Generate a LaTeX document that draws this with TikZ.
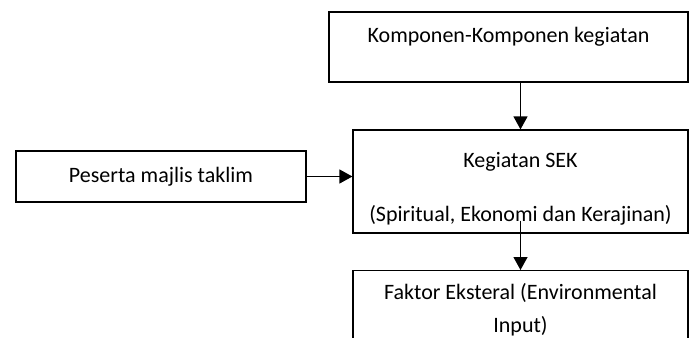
\documentclass[tikz,border=0pt]{standalone}
\usepackage{fontspec}
\setmainfont{Carlito}
\usepackage{tikz}
\usetikzlibrary{arrows.meta}

\begin{document}
\begin{tikzpicture}[x=1pt, y=1pt, font=\fontsize{11}{13.4}\selectfont,
		kotak/.style={draw, line width=0.6pt, rectangle, align=center, inner sep=0pt},
		panah/.style={line width=0.6pt, -{Triangle[length=6.5pt, width=7pt]}}]
				\useasboundingbox (0, 0) rectangle (345, -168.5);
				\clip (0, 0) rectangle (345, -168.5);
				\node[kotak, minimum width=179.5pt, minimum height=35pt] (komponen) at (254.25, -23.5) {Komponen-Komponen kegiatan\\[-1pt]~};
				\node[kotak, minimum width=167.5pt, minimum height=51.5pt] (sek) at (260.25, -90.75) {\rule{0pt}{14.5pt}Kegiatan SEK\\[13.5pt](Spiritual, Ekonomi dan Kerajinan)};
				\node[kotak, minimum width=145pt, minimum height=25.5pt] (peserta) at (80.5, -88.25) {Peserta majlis taklim};
				\node[kotak, anchor=north, minimum width=167.5pt, inner ysep=6.5pt] (faktor) at (260.25, -135) {Faktor Eksteral (Environmental\\[3pt]Input)\\[20pt]~};
				\coordinate (mulai) at ([yshift=6.5pt]sek.south);
				\draw[panah] (komponen.south -| sek.north) -- (sek.north);
				\draw[panah] (peserta.east) -- (peserta.east -| sek.west);
				\draw[panah] (mulai) -- (faktor.north);
			\end{tikzpicture}
\end{document}
